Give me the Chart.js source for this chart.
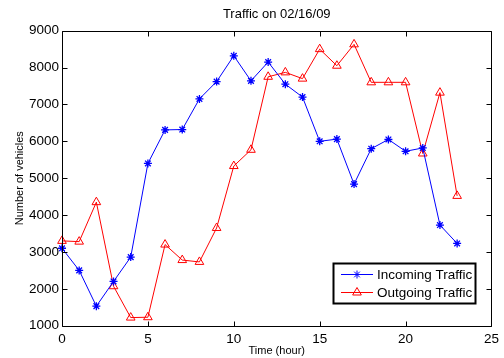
<!DOCTYPE html>
<html><head><meta charset="utf-8">
<script src="https://cdn.jsdelivr.net/npm/chart.js@4/dist/chart.umd.min.js"></script>
<style>html,body{margin:0;padding:0;background:#fff}#wrap{width:504px;height:358px}</style>
</head><body><div id="wrap"><canvas id="c" width="504" height="358"></canvas></div>
<script>
const hours = [0,1,2,3,4,5,6,7,8,9,10,11,12,13,14,15,16,17,18,19,20,21,22,23];
const incoming = [3100,2500,1530,2200,2860,5400,6310,6320,7150,7620,8320,7640,8150,7550,7200,6000,6060,4840,5800,6050,5730,5820,3730,3230];
const outgoing = [3300,3280,4350,2070,1220,1230,3200,2780,2730,3650,5330,5770,7750,7870,7700,8500,8050,8630,7600,7600,7600,5670,7320,4520];
const xTicks = [0,5,10,15,20,25];
const yTicks = [1000,2000,3000,4000,5000,6000,7000,8000,9000];
const titleText = 'Traffic on 02/16/09';
const xTitle = 'Time (hour)';
const yTitle = 'Number of vehicles';
const seriesNames = ['Incoming Traffic','Outgoing Traffic'];

const FONT = 'Liberation Sans, Arial, Helvetica, sans-serif';

const frameTicks = {
  id: 'frameTicks',
  afterDatasetsDraw(chart) {
    const {ctx, chartArea: a, scales: {x, y}} = chart;
    ctx.save();
    // title centred over the plot area
    ctx.fillStyle = '#000';
    ctx.font = '13px ' + FONT;
    ctx.textAlign = 'center';
    ctx.textBaseline = 'middle';
    ctx.fillText(titleText, (a.left + a.right) / 2, 14.5);

    ctx.strokeStyle = '#000';
    ctx.lineWidth = 1;
    const L = Math.round(a.left) + 0.5, R = Math.round(a.right) + 0.5;
    const T = Math.round(a.top) + 0.5, B = Math.round(a.bottom) + 0.5;
    ctx.beginPath();
    ctx.rect(L, T, R - L, B - T);
    const tl = 5;
    xTicks.forEach(v => {
      const px = Math.round(x.getPixelForValue(v)) + 0.5;
      ctx.moveTo(px, B); ctx.lineTo(px, B - tl);
      ctx.moveTo(px, T); ctx.lineTo(px, T + tl);
    });
    yTicks.forEach(v => {
      const py = Math.round(y.getPixelForValue(v)) + 0.5;
      ctx.moveTo(L, py); ctx.lineTo(L + tl, py);
      ctx.moveTo(R, py); ctx.lineTo(R - tl, py);
    });
    ctx.stroke();

    // legend box (inside plot, bottom right)
    const bx = 333.5, by = 263.5, bw = 142, bh = 40;
    ctx.fillStyle = '#fff';
    ctx.fillRect(bx, by, bw, bh);
    ctx.lineWidth = 2;
    ctx.strokeStyle = '#000';
    ctx.strokeRect(bx, by, bw, bh);
    const rows = [274.5, 292.5];
    chart.data.datasets.forEach((ds, i) => {
      const yy = rows[i];
      ctx.strokeStyle = ds.borderColor;
      ctx.lineWidth = 1;
      ctx.beginPath();
      ctx.moveTo(341, yy); ctx.lineTo(373, yy);
      ctx.stroke();
      ctx.strokeStyle = ds.pointBorderColor;
      ctx.fillStyle = ds.pointBackgroundColor;
      ctx.lineWidth = 1;
      Chart.helpers.drawPoint(ctx, {
        pointStyle: ds.pointStyle, rotation: 0, radius: ds.pointRadius,
        borderWidth: 1
      }, 357, yy);
      ctx.fillStyle = '#000';
      ctx.font = '13.5px ' + FONT;
      ctx.textBaseline = 'middle';
      ctx.textAlign = 'left';
      ctx.fillText(ds.label, 377, yy + 0.5);
    });
    ctx.restore();
  }
};

new Chart(document.getElementById('c'), {
  type: 'line',
  data: {
    datasets: [
      {
        label: seriesNames[0],
        data: hours.map((h, i) => ({x: h, y: incoming[i]})),
        borderColor: '#0000ff', backgroundColor: '#0000ff',
        borderWidth: 1, pointStyle: 'star', pointRadius: 4,
        pointBorderColor: '#0000ff', pointBackgroundColor: '#0000ff',
        pointBorderWidth: 1.3, tension: 0, clip: false
      },
      {
        label: seriesNames[1],
        data: hours.map((h, i) => ({x: h, y: outgoing[i]})),
        borderColor: '#ff0000', backgroundColor: 'rgba(0,0,0,0)',
        borderWidth: 1, pointStyle: 'triangle', pointRadius: 5,
        pointBorderColor: '#ff0000', pointBackgroundColor: 'rgba(0,0,0,0)',
        pointBorderWidth: 1, tension: 0, clip: false
      }
    ]
  },
  options: {
    responsive: false, animation: false, devicePixelRatio: 1,
    layout: {padding: {left: 0, right: 10, top: 30.7, bottom: 0}},
    plugins: {
      legend: {display: false},
      tooltip: {enabled: false},
      title: {display: false}
    },
    scales: {
      x: {
        type: 'linear', min: 0, max: 25,
        afterBuildTicks(s) { s.ticks = xTicks.map(v => ({value: v})); },
        afterFit(s) { s.height = 32.3; },
        grid: {display: false, drawTicks: false}, border: {display: false},
        ticks: {color: '#000', padding: 5, maxRotation: 0, font: {family: FONT, size: 13.5},
          callback: v => String(v)},
        title: {display: true, text: xTitle, color: '#000', font: {family: FONT, size: 11}, padding: {top: 0, bottom: 0.4}}
      },
      y: {
        type: 'linear', min: 1000, max: 9000,
        afterBuildTicks(s) { s.ticks = yTicks.map(v => ({value: v})); },
        afterFit(s) { s.width = 62; },
        grid: {display: false, drawTicks: false}, border: {display: false},
        ticks: {color: '#000', padding: 3, font: {family: FONT, size: 13.5},
          callback: v => String(v)},
        title: {display: true, text: yTitle, color: '#000', font: {family: FONT, size: 11}, padding: {top: 13, bottom: 0}}
      }
    }
  },
  plugins: [frameTicks]
});
</script>
</body></html>
